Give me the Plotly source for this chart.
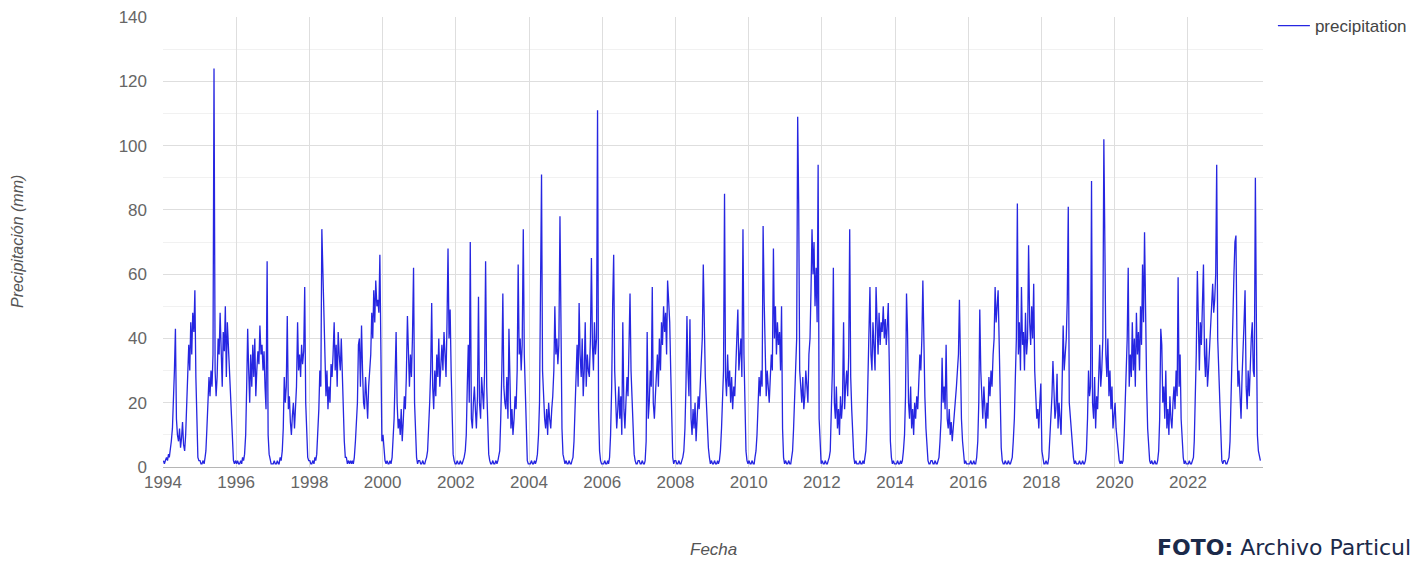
import datetime as dt
import plotly.graph_objects as go

# Dekadal precipitation (mm), 36 values per year (days 5/15/25 of each month)
p1994 = [2,1,2,3,2,4,3,5,8,12,20,30,43,15,10,8,12,6,9,14,7,5,10,18,25,38,30,45,35,48,42,55,28,10,3,2]
p1995 = [2,1,1,2,1,3,5,12,20,28,22,30,25,35,124,30,22,28,40,35,48,30,25,42,36,50,28,45,38,30,22,12,5,2,1,2]
p1996 = [1,2,1,1,2,1,3,2,4,10,25,43,30,20,35,25,38,28,40,22,30,36,32,44,35,38,30,36,25,18,64,10,4,2,1,1]
p1997 = [1,2,1,1,2,1,1,3,2,5,12,28,20,25,47,18,22,14,10,16,20,12,18,25,45,30,35,28,38,32,36,56,20,8,3,2]
p1998 = [2,1,1,2,1,3,2,4,10,18,30,25,74,61,40,28,22,30,18,25,20,32,28,35,45,30,38,25,42,35,30,40,28,22,8,3]
p1999 = [3,1,2,1,2,1,2,1,3,8,15,20,38,40,25,44,30,20,18,28,22,15,25,30,35,48,40,55,45,58,50,52,48,66,30,8]
p2000 = [10,4,2,1,2,1,1,2,1,3,8,15,28,42,20,12,15,10,18,8,14,22,18,28,47,30,25,35,28,40,62,20,8,3,1,2]
p2001 = [2,1,1,2,1,1,2,3,5,12,20,30,51,25,18,30,22,35,28,40,25,32,38,30,42,35,28,45,68,40,49,30,12,4,2,1]
p2002 = [1,2,1,1,2,1,1,2,3,5,10,25,38,20,70,15,12,20,25,18,12,22,53,20,15,28,22,18,30,64,25,10,4,2,1,1]
p2003 = [2,1,1,2,1,2,3,5,15,30,54,25,20,18,28,15,43,22,12,18,10,15,22,18,30,63,35,40,30,38,74,35,22,8,2,1]
p2004 = [1,1,2,1,1,2,1,2,4,10,20,50,91,30,22,15,12,18,10,20,15,12,18,22,30,50,35,40,32,38,78,30,12,4,2,1]
p2005 = [2,1,1,2,1,1,2,3,8,20,30,38,25,51,35,28,40,22,30,45,25,35,30,28,40,65,38,30,45,35,40,111,18,5,2,1]
p2006 = [1,1,2,1,1,2,1,3,10,25,51,66,30,20,12,18,25,15,22,10,45,18,12,20,28,22,35,54,30,20,10,4,2,1,1,2]
p2007 = [2,1,1,2,1,1,2,8,42,15,20,30,25,56,20,15,22,30,35,25,40,30,45,38,50,42,48,35,58,52,45,30,10,3,1,2]
p2008 = [2,1,1,2,1,1,2,3,5,12,25,47,30,22,46,15,10,18,12,20,8,15,22,18,25,30,40,63,35,28,20,12,6,3,1,2]
p2009 = [1,1,2,1,1,2,1,2,5,12,20,30,85,28,22,35,25,30,20,28,18,25,22,30,38,49,30,35,40,28,74,35,15,5,2,1]
p2010 = [2,1,1,2,1,1,3,5,10,20,28,22,30,25,75,51,28,22,30,25,20,28,35,30,68,40,50,35,45,38,42,30,50,12,3,1]
p2011 = [2,1,1,2,1,1,3,5,12,25,33,40,109,82,30,25,20,28,18,22,30,25,20,35,40,55,74,60,70,50,62,45,94,15,4,1]
p2012 = [2,1,1,2,1,1,2,3,5,15,30,62,20,15,25,12,18,10,22,15,20,45,18,25,30,22,35,74,28,18,8,3,1,2,1,1]
p2013 = [1,2,1,1,2,1,3,5,12,25,40,56,35,30,45,38,30,56,40,35,48,38,45,42,50,40,46,38,44,51,30,8,3,1,2,1]
p2014 = [1,1,2,1,1,2,1,2,5,10,22,54,42,20,15,25,12,18,10,20,15,22,18,28,35,30,40,58,30,22,12,5,2,1,1,2]
p2015 = [2,1,1,2,1,1,2,3,8,15,34,20,25,18,38,15,12,18,10,14,8,12,16,20,25,30,35,52,25,15,8,3,1,2,1,1]
p2016 = [1,1,2,1,1,2,1,1,3,8,20,49,30,22,15,25,18,12,20,15,28,22,30,25,35,40,56,45,50,55,38,20,6,2,1,1]
p2017 = [2,1,1,2,1,1,2,3,8,15,28,40,82,35,45,30,56,38,42,30,48,35,40,69,45,38,50,40,57,30,22,15,18,12,20,26]
p2018 = [5,2,1,1,2,1,1,3,8,15,22,33,20,15,18,29,12,20,15,10,25,44,30,35,40,52,81,20,15,12,8,3,1,2,1,1]
p2019 = [1,2,1,1,2,1,1,2,5,15,30,22,25,89,20,15,28,12,22,18,30,38,25,30,40,102,70,35,28,40,22,30,18,25,12,15]
p2020 = [20,12,8,4,2,1,2,1,2,10,22,30,40,62,25,35,28,45,30,40,25,48,35,42,30,50,38,63,45,73,40,25,12,5,2,1]
p2021 = [2,1,1,2,1,1,2,5,15,43,38,20,25,15,30,12,18,10,22,15,12,20,25,18,30,22,59,25,35,15,8,3,1,2,1,1]
p2022 = [1,2,1,1,2,3,8,20,35,61,40,30,45,38,50,63,35,28,40,25,30,38,45,50,57,48,52,60,94,40,30,15,5,2,1,2]
p2023 = [2,1,1,2,3,8,20,35,45,60,70,72,40,25,30,20,15,28,35,45,55,25,18,30,22,35,40,45,30,28,90,45,10,5,3,2]

years = list(range(1994, 2024))
series = [p1994, p1995, p1996, p1997, p1998, p1999, p2000, p2001, p2002, p2003,
          p2004, p2005, p2006, p2007, p2008, p2009, p2010, p2011, p2012, p2013,
          p2014, p2015, p2016, p2017, p2018, p2019, p2020, p2021, p2022, p2023]

# x tick labels (years) and y ticks
x_tick_years = [1994, 1996, 1998, 2000, 2002, 2004, 2006, 2008, 2010, 2012, 2014, 2016, 2018, 2020, 2022]
y_ticks = [0, 20, 40, 60, 80, 100, 120, 140]

dates, values = [], []
for y, vals in zip(years, series):
    for k, v in enumerate(vals):
        dates.append(dt.date(y, k // 3 + 1, 5 + 10 * (k % 3)))
        values.append(v)

x_tickvals = [dt.date(y, 1, 1) for y in x_tick_years]
x_ticktext = [str(y) for y in x_tick_years]

FONT = "Liberation Sans, Arial, sans-serif"

fig = go.Figure()
fig.add_trace(go.Scatter(
    x=dates, y=values, mode="lines", name="precipitation",
    line=dict(color="rgb(38,38,225)", width=1.3),
))

fig.update_layout(
    width=1418, height=554,
    margin=dict(l=155, r=163, t=9, b=95, autoexpand=False),
    paper_bgcolor="white", plot_bgcolor="white",
    font=dict(family=FONT, size=17, color="#666666"),
    showlegend=True,
    legend=dict(x=1.009, y=1.02, xanchor="left", yanchor="top",
                font=dict(size=17, color="#444444"), itemwidth=32,
                bgcolor="rgba(0,0,0,0)"),
    xaxis=dict(
        type="date", range=["1994-01-01", "2024-01-20"],
        tickvals=x_tickvals, ticktext=x_ticktext,
        showgrid=True, gridcolor="#dedede", gridwidth=1,
        showline=True, linecolor="#b5b5b5", linewidth=1,
        ticks="", ticklabelstandoff=0, zeroline=False, automargin=False,
        tickfont=dict(size=17, color="#666666"),
    ),
    yaxis=dict(
        range=[0, 140], tickvals=y_ticks,
        showgrid=True, gridcolor="#dedede", gridwidth=1,
        minor=dict(dtick=10, showgrid=True, gridcolor="#f1f1f1"),
        zeroline=False, showline=False, ticks="", automargin=False,
        ticklabelstandoff=15, ticklabeloverflow="allow",
        tickfont=dict(size=17, color="#666666"),
    ),
    annotations=[
        dict(text="<i>Precipitación (mm)</i>", xref="paper", yref="paper",
             x=-0.1327, y=0.5, textangle=-90, showarrow=False,
             xanchor="center", yanchor="middle",
             font=dict(family=FONT, size=16, color="#555555")),
        dict(text="<i>Fecha</i>", xref="paper", yref="paper",
             x=0.5, y=-0.184, showarrow=False,
             xanchor="center", yanchor="middle",
             font=dict(family=FONT, size=17, color="#555555")),
        dict(text="<b>FOTO:</b> Archivo Particul", xref="paper", yref="paper",
             x=0.9018, y=-0.2111, showarrow=False,
             xanchor="left", yanchor="bottom",
             font=dict(family="DejaVu Sans, sans-serif", size=22, color="#1b2a4a")),
    ],
)

fig.write_html("out.html")
